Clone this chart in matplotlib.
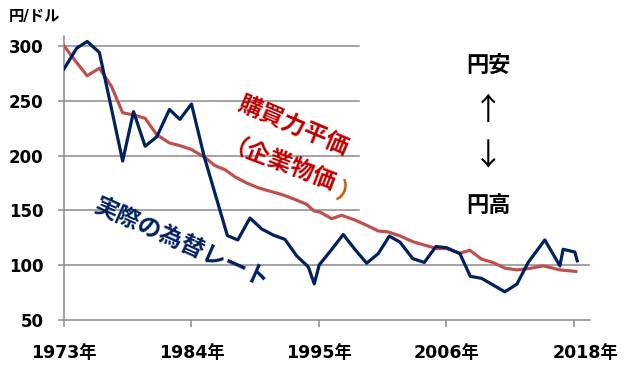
import matplotlib.pyplot as plt

plt.rcParams['font.family'] = ['DejaVu Sans', 'Noto Sans CJK JP']

fx_years = [1973.0, 1974.1, 1975.0, 1976.05, 1977.05, 1978.06, 1979.0, 1980.0, 1981.0,
            1982.1, 1983.0, 1984.0, 1985.1, 1986.1, 1987.1, 1988.0, 1989.05, 1990.06,
            1991.06, 1992.07, 1993.08, 1994.08, 1994.6, 1995.03, 1996.08, 1997.1,
            1998.1, 1999.12, 2000.12, 2001.08, 2002.0, 2003.1, 2004.1, 2005.1, 2006.0,
            2007.17, 2008.07, 2009.04, 2011.05, 2012.09, 2013.06, 2014.5, 2015.8,
            2016.08, 2017.09, 2017.3]
fx_rate = [279, 298, 304, 294, 245, 195, 240, 208.5, 217,
           242, 233, 247, 199, 163, 127, 123, 143, 133,
           127.5, 123.5, 108.5, 98.5, 83, 100.3, 114, 128,
           114.5, 101.8, 110.5, 126.5, 121, 106, 102.5, 117, 116,
           110.5, 89.8, 88, 75.7, 82.7, 102.4, 123, 99.4,
           114.5, 112, 104]

# purchasing power parity (corporate goods prices)
ppp_years = [1973.0, 1974.0, 1975.0, 1976.05, 1977.1, 1978.06, 1979.0, 1980.0, 1981.0,
             1982.1, 1983.0, 1984.0, 1985.2, 1986.0, 1986.9, 1987.75, 1988.76, 1989.76,
             1990.77, 1991.78, 1992.93, 1993.94, 1994.57, 1995.09, 1996.1, 1996.96,
             1998.1, 1999.12, 2000.12, 2000.98, 2002.0, 2003.14, 2004.15, 2005.16,
             2006.02, 2007.17, 2008.03, 2009.04, 2010.04, 2011.05, 2012.06, 2013.2,
             2014.35, 2015.8, 2017.18]
ppp_rate = [300, 286, 272.7, 279.7, 263, 239, 237, 234, 219,
            211.5, 209, 205.5, 198, 191, 187, 180.6, 175, 170.6,
            167.5, 164.5, 160, 155.5, 149.5, 148.5, 142.4, 145.5,
            141.2, 136.4, 131.2, 130.3, 126.7, 121.3, 118.2, 115.2,
            115.2, 110.9, 113.6, 105.5, 102.4, 97.3, 95.7, 97,
            99.4, 95.7, 94.3]

tick_years = [1973, 1984, 1995, 2006, 2017]
tick_labels = ['1973年', '1984年', '1995年', '2006年', '']
y_ticks = [50, 100, 150, 200, 250, 300]

navy = '#002060'
red_line = '#C0504D'
grid_c = '#8a8a8a'

fig = plt.figure(figsize=(6.24, 3.66), dpi=100)
ax = fig.add_axes([0.1026, 0.1257, 0.8429, 0.7759])

ax.set_xlim(1973, 2018.4)
ax.set_ylim(50, 309)

# gridlines (upper ones are hidden behind the text box on the right)
for v in [150, 200, 250, 300]:
    ax.axhline(v, xmin=0, xmax=0.561, color=grid_c, lw=1.1, zorder=1)
ax.axhline(100, color=grid_c, lw=1.1, zorder=1)

ax.plot(ppp_years, ppp_rate, color=red_line, lw=2.3, zorder=3)
ax.plot(fx_years, fx_rate, color=navy, lw=2.3, zorder=4)

for s in ['top', 'right']:
    ax.spines[s].set_visible(False)
for s in ['left', 'bottom']:
    ax.spines[s].set_color(grid_c)
    ax.spines[s].set_linewidth(1.1)

ax.set_yticks(y_ticks)
ax.set_yticklabels([str(v) for v in y_ticks], fontsize=12, fontweight='bold')
ax.set_xticks(tick_years)
ax.set_xticklabels(tick_labels, fontsize=12.5, fontweight='bold')
ax.tick_params(axis='y', direction='out', length=4.3, width=1.1, color=grid_c, pad=10.5)
ax.tick_params(axis='x', direction='out', length=5, width=1.1, color=grid_c, pad=12)

ax.text(2018.0, -0.115, '2018年', transform=ax.get_xaxis_transform(),
        ha='center', va='center', fontsize=12.5, fontweight='bold')

fig.text(0.014, 1 - 16 / 366, '円/ドル', ha='left', va='center',
         fontsize=11, fontweight='bold')

# right-hand note
def fpos(px, py):
    return px / 624, 1 - py / 366

fig.text(*fpos(488, 65), '円安', ha='center', va='center', fontsize=16,
         fontweight='bold', family=['Noto Sans CJK JP'])
fig.text(*fpos(488, 111), '↑', ha='center', va='center', fontsize=22,
         family=['Noto Sans CJK JP'])
fig.text(*fpos(488, 157), '↓', ha='center', va='center', fontsize=22,
         family=['Noto Sans CJK JP'])
fig.text(*fpos(488, 205), '円高', ha='center', va='center', fontsize=16,
         fontweight='bold', family=['Noto Sans CJK JP'])

# series labels
fig.text(*fpos(294, 125), '購買力平価', ha='center', va='center', fontsize=17,
         fontweight='bold', color='#C00000', rotation=-23, rotation_mode='anchor',
         family=['Noto Sans CJK JP'])
fig.text(*fpos(279, 167), '（企業物価', ha='center', va='center', fontsize=17,
         fontweight='bold', color='#C00000', rotation=-21, rotation_mode='anchor',
         family=['Noto Sans CJK JP'])
fig.text(*fpos(348, 194), '）', ha='center', va='center', fontsize=17,
         fontweight='bold', color='#C55A11', rotation=-21, rotation_mode='anchor',
         family=['Noto Sans CJK JP'])
fig.text(*fpos(182, 243), '実際の為替レート', ha='center', va='center', fontsize=17,
         fontweight='bold', color=navy, rotation=-24, rotation_mode='anchor',
         family=['Noto Sans CJK JP'])

fig.savefig('out.png', dpi=100)
